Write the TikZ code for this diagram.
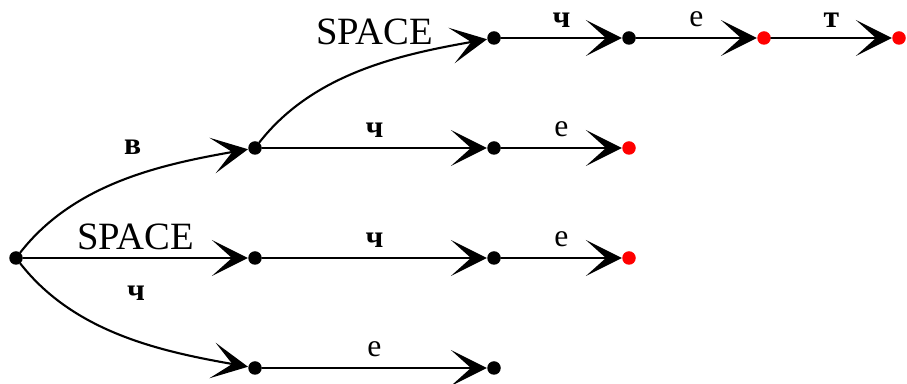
\documentclass[tikz,border=0pt]{standalone}
\usepackage{fontspec}
\setmainfont{Liberation Serif}
\usetikzlibrary{arrows.meta}

\begin{document}
\begin{tikzpicture}[x=0.02cm,y=-0.02cm,line cap=round,line join=round,
  state/.style={circle,fill=black,inner sep=0pt,minimum size=0.27cm},
  final/.style={state,fill=red},
  edge/.style={line width=1.2pt,-{Stealth[length=0.72cm,width=0.72cm,inset=0.4cm]}},
  bend up/.style={out=52,in=190,looseness=0.9},
  bend down/.style={out=-52,in=170,looseness=0.9},
  lbl/.style={font=\fontsize{22}{26}\selectfont,inner sep=1pt},
  sym/.style={font=\fontsize{18}{22}\selectfont,inner sep=1pt},
  symb/.style={sym,font=\fontsize{18}{22}\selectfont\bfseries}]
  \useasboundingbox (0,0) rectangle (907,384);

  % ---- states ----
  \node[state] (root) at (16,258) {};
  \node[state] (v)    at (255,148) {};
  \node[state] (sp)   at (255,258) {};
  \node[state] (ch)   at (255,368) {};
  % level 2
  \node[state] (vsp)  at (494,38) {};
  \node[state] (vch)  at (494,148) {};
  \node[state] (spch) at (494,258) {};
  \node[state] (che)  at (494,368) {};
  % level 3 and further
  \node[state] (vspch)   at (629,38) {};
  \node[final] (vche)    at (629,148) {};
  \node[final] (spche)   at (629,258) {};
  \node[final] (vspche)  at (764,38) {};
  \node[final] (vspchet) at (899,38) {};

  % ---- transitions from the root ----
  \draw[edge] (root) to[bend up]
    node[symb,pos=0.5,above=0.47cm,xshift=0.21cm] {в} (v);
  \draw[edge] (root) -- node[lbl,above=3pt] {SPACE} (sp);
  \draw[edge] (root) to[bend down]
    node[symb,pos=0.5,above=0.64cm,xshift=0.28cm] {ч} (ch);

  % ---- branch в ----
  \draw[edge] (v) to[bend up]
    node[lbl,pos=0.5,above=0.45cm,xshift=0.27cm] {SPACE} (vsp);
  \draw[edge] (v) -- node[symb,above=4.5pt] {ч} (vch);
  \draw[edge] (vch) -- node[sym,above=4.5pt] {е} (vche);
  \draw[edge] (vsp) -- node[symb,above=4.5pt] {ч} (vspch);
  \draw[edge] (vspch) -- node[sym,above=4.5pt] {е} (vspche);
  \draw[edge] (vspche) -- node[symb,above=4.5pt] {т} (vspchet);

  % ---- branch SPACE ----
  \draw[edge] (sp) -- node[symb,above=4.5pt] {ч} (spch);
  \draw[edge] (spch) -- node[sym,above=4.5pt] {е} (spche);

  % ---- branch ч ----
  \draw[edge] (ch) -- node[sym,above=4.5pt] {е} (che);
\end{tikzpicture}
\end{document}
